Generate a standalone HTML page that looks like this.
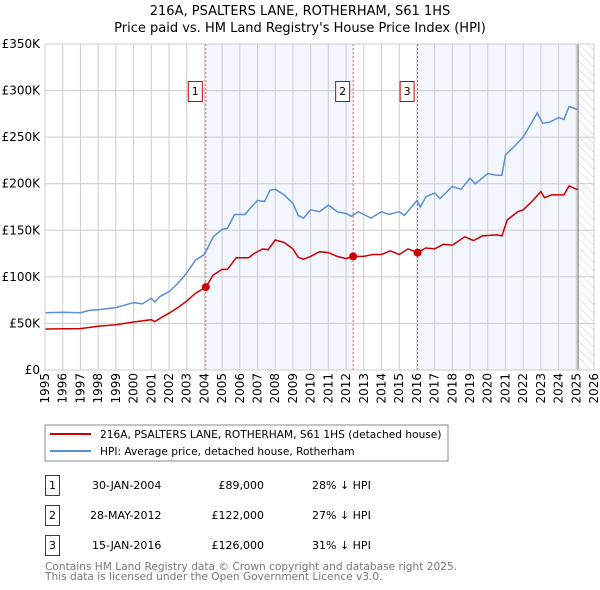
<!DOCTYPE html>
<html><head><meta charset="utf-8"><style>
body{margin:0;background:#fff;}
svg{display:block;font-family:"DejaVu Sans","Liberation Sans",sans-serif;}
</style></head><body>
<svg id="chart" width="600" height="590" viewBox="0 0 600 590">
<text x="300" y="15" text-anchor="middle" font-size="13">216A, PSALTERS LANE, ROTHERHAM, S61 1HS</text>
<text x="300" y="32" text-anchor="middle" font-size="13">Price paid vs. HM Land Registry's House Price Index (HPI)</text>
<g id="plot"></g>
<rect x="45" y="425" width="403" height="36" fill="none" stroke="#888"/>
<line x1="50" y1="434" x2="91" y2="434" stroke="#cc0000" stroke-width="2"/>
<text x="100" y="438" font-size="10.6">216A, PSALTERS LANE, ROTHERHAM, S61 1HS (detached house)</text>
<line x1="50" y1="451" x2="91" y2="451" stroke="#5b8fd4" stroke-width="2"/>
<text x="100" y="455" font-size="10.6">HPI: Average price, detached house, Rotherham</text>
<g font-size="11">
<rect x="45.5" y="475.5" width="14" height="20" fill="#fff" stroke="#cc0000"/>
<text x="52.5" y="489" text-anchor="middle">1</text>
<text x="92" y="489">30-JAN-2004</text>
<text x="264" y="489" text-anchor="end">£89,000</text>
<text x="312" y="489">28% ↓ HPI</text>
<rect x="45.5" y="505.5" width="14" height="20" fill="#fff" stroke="#cc0000"/>
<text x="52.5" y="519" text-anchor="middle">2</text>
<text x="90" y="519">28-MAY-2012</text>
<text x="264" y="519" text-anchor="end">£122,000</text>
<text x="312" y="519">27% ↓ HPI</text>
<rect x="45.5" y="535.5" width="14" height="20" fill="#fff" stroke="#cc0000"/>
<text x="52.5" y="549" text-anchor="middle">3</text>
<text x="92" y="549">15-JAN-2016</text>
<text x="264" y="549" text-anchor="end">£126,000</text>
<text x="312" y="549">31% ↓ HPI</text>
</g>
<text x="45" y="570" font-size="10.6" fill="#777">Contains HM Land Registry data © Crown copyright and database right 2025.</text>
<text x="45" y="580" font-size="10.6" fill="#777">This data is licensed under the Open Government Licence v3.0.</text>
</svg>
<script>
const yTicks=[0,50,100,150,200,250,300,350];
const yTickLabels=["£0","£50K","£100K","£150K","£200K","£250K","£300K","£350K"];
const xYears=[1995,1996,1997,1998,1999,2000,2001,2002,2003,2004,2005,2006,2007,2008,2009,2010,2011,2012,2013,2014,2015,2016,2017,2018,2019,2020,2021,2022,2023,2024,2025,2026];
const hpiT=[1995,1996,1997,1997.5,1998,1999,2000,2000.5,2001,2001.2,2001.5,2002,2002.5,2003,2003.5,2004,2004.5,2005,2005.3,2005.7,2006.3,2006.6,2007,2007.4,2007.7,2008,2008.5,2009,2009.3,2009.6,2010,2010.5,2011,2011.5,2012,2012.3,2012.7,2013,2013.4,2014,2014.4,2015,2015.3,2016,2016.2,2016.5,2017,2017.3,2018,2018.5,2019,2019.3,2020,2020.5,2020.8,2021,2021.5,2022,2022.8,2023.1,2023.5,2024,2024.3,2024.6,2025,2025.1];
const hpiV=[61.5,62,61.5,64,64.6,67,72.3,71,77,73,79,84,93,104,118,124,143,151,152,167,167,174,182,181,193,194,188,179,166,163,172,170,177,170,168,165,170,167,163,170,167,170,166,182,175,186,190,184,197,194,206,200,211,209,209,231,240,250,276,265,266,271,269,283,280,280];
const saleT=[1995,1997,1998,1999,2000,2001,2001.2,2001.6,2002,2002.5,2003,2003.5,2004.08,2004.5,2005,2005.3,2005.8,2006.5,2006.8,2007.3,2007.6,2008,2008.5,2009,2009.3,2009.6,2010,2010.5,2011,2011.5,2012,2012.4,2013,2013.5,2014,2014.5,2015,2015.5,2016.04,2016.5,2017,2017.5,2018,2018.7,2019.2,2019.7,2020.5,2020.8,2021.1,2021.7,2022,2022.5,2023,2023.2,2023.6,2024.3,2024.6,2025,2025.1];
const saleV=[44,44.5,47,48.6,51.5,54,52,56.7,61,67,74,82.5,89,102,108,108,120.6,120.6,125,130,129,139.6,137,130,121,119,122,127,126,122,119.6,122,122,124,124,128,124,130,126,131,130,135,134,143,139,144,145,144,161,170,172,181,191.6,185,188,188,197.6,194,194];
const salesT=[2004.08,2012.4,2016.04];
const salesV=[89,122,126];
const salesLabels=["1","2","3"];
const dataEnd=2025.1;

const X0=45,X1=594,Y0=370,Y1=44;
const xs=t=>X0+(t-1995)*(X1-X0)/31;
const ys=v=>Y0-v*(Y0-Y1)/350;
const NS="http://www.w3.org/2000/svg";
const plot=document.getElementById('plot');
function mk(tag,attrs){const e=document.createElementNS(NS,tag);for(const k in attrs)e.setAttribute(k,attrs[k]);plot.appendChild(e);return e;}

let e=mk('rect',{x:xs(salesT[0]),y:Y1,width:xs(salesT[1])-xs(salesT[0]),height:Y0-Y1,fill:'#f3f6fd'});


e=mk('rect',{x:xs(salesT[2]),y:Y1,width:xs(dataEnd)-xs(salesT[2]),height:Y0-Y1,fill:'#f3f6fd'});


const defs=mk('defs',{});
defs.innerHTML='<pattern id="hatch" width="6" height="6" patternUnits="userSpaceOnUse" patternTransform="rotate(-45)"><line x1="0" y1="0" x2="0" y2="6" stroke="#ccc" stroke-width="1"/></pattern>';
e=mk('rect',{x:xs(dataEnd),y:Y1,width:X1-xs(dataEnd),height:Y0-Y1,fill:'url(#hatch)'});


xYears.forEach(yr=>{
  const g=mk('line',{x1:xs(yr),x2:xs(yr),y1:Y1,y2:Y0,stroke:'#ccc','stroke-width':1});
  
  
  const t=mk('text',{x:0,y:0,'font-size':12,'text-anchor':'end',transform:`translate(${xs(yr)+4},373) rotate(-90)`});
  t.textContent=yr;
  
  
});
yTicks.forEach((v,i)=>{
  const g=mk('line',{x1:X0,x2:X1,y1:ys(v),y2:ys(v),stroke:'#ccc','stroke-width':1});
  
  
  const t=mk('text',{x:40,y:ys(v)+4,'font-size':12,'text-anchor':'end'});
  t.textContent=yTickLabels[i];
  
  
});
e=mk('line',{x1:xs(dataEnd),x2:xs(dataEnd),y1:Y1,y2:Y0,stroke:'#999','stroke-width':1.5});


salesT.forEach((t,i)=>{
  const l=mk('line',{x1:xs(t),x2:xs(t),y1:Y1,y2:Y0,stroke:'#ee5555','stroke-width':1,'stroke-dasharray':'2,2'});
  
  
});
const path=(T,V)=>T.map((t,i)=>(i?'L':'M')+xs(t).toFixed(1)+','+ys(V[i]).toFixed(1)).join('');
e=mk('path',{d:path(hpiT,hpiV),fill:'none',stroke:'#5b8fd4','stroke-width':1.5});


e=mk('path',{d:path(saleT,saleV),fill:'none',stroke:'#cc0000','stroke-width':1.5});


salesT.forEach((t,i)=>{
  const c=mk('circle',{cx:xs(t),cy:ys(salesV[i]),r:4,fill:'#cc0000'});
  
  
  const b=mk('rect',{x:xs(t)-17.5,y:81.5,width:14,height:20,fill:'#fff',stroke:'#cc0000'});
  
  
  const tx=mk('text',{x:xs(t)-10.5,y:95,'font-size':11,'text-anchor':'middle'});
  tx.textContent=salesLabels[i];
  
  
});
e=mk('rect',{x:X0,y:Y1,width:X1-X0,height:Y0-Y1,fill:'none',stroke:'#ccc'});


</script>
</body></html>
